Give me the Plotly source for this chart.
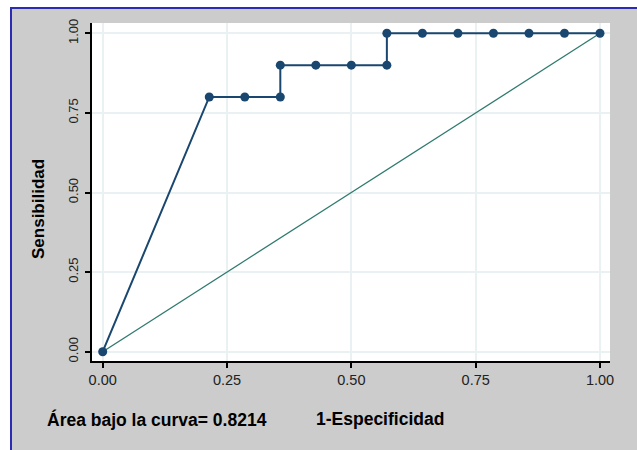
import plotly.graph_objects as go

# ---- data ----
fpr = [0.0, 3/14, 4/14, 5/14, 5/14, 6/14, 7/14, 8/14, 8/14, 9/14, 10/14, 11/14, 12/14, 13/14, 1.0]
sens = [0.0, 0.8, 0.8, 0.8, 0.9, 0.9, 0.9, 0.9, 1.0, 1.0, 1.0, 1.0, 1.0, 1.0, 1.0]
diag_x = [0.0, 1.0]
diag_y = [0.0, 1.0]
tick_vals = [0.0, 0.25, 0.5, 0.75, 1.0]
tick_text = ["0.00", "0.25", "0.50", "0.75", "1.00"]
auc_text = "Área bajo la curva= 0.8214"
x_title = "1-Especificidad"
y_title = "Sensibilidad"

W, H = 637, 450
L, R, T, B = 92, 610, 23, 361  # plot area in px


def xp(px):
    return (px - L) / (R - L)


def yp(py):
    return (B - py) / (B - T)


# axis ranges from pixel calibration
x0px, x1px = 102.7, 600.0
y0px, y1px = 351.7, 33.3
xr = [(L - x0px) / (x1px - x0px), (R - x0px) / (x1px - x0px)]
yr = [(y0px - B) / (y0px - y1px), (y0px - T) / (y0px - y1px)]

navy = "#1a476f"
teal = "#2f7a6e"
grid = "#eaf1f3"
font = "Liberation Sans, Arial, sans-serif"

fig = go.Figure()
fig.add_trace(go.Scatter(x=diag_x, y=diag_y, mode="lines",
                         line=dict(color=teal, width=1.3), hoverinfo="skip"))
fig.add_trace(go.Scatter(x=fpr, y=sens, mode="lines+markers",
                         line=dict(color=navy, width=2),
                         marker=dict(color=navy, size=9)))

shapes = [
    # white margin left & top
    dict(type="rect", xref="paper", yref="paper", x0=xp(0), x1=xp(10), y0=yp(450), y1=yp(0),
         fillcolor="white", line=dict(width=0), layer="above"),
    dict(type="rect", xref="paper", yref="paper", x0=xp(0), x1=xp(W), y0=yp(7), y1=yp(0),
         fillcolor="white", line=dict(width=0), layer="above"),
    # blue border lines
    dict(type="rect", xref="paper", yref="paper", x0=xp(10), x1=xp(12), y0=yp(450), y1=yp(7),
         fillcolor="#2b2bb5", line=dict(width=0), layer="above"),
    dict(type="rect", xref="paper", yref="paper", x0=xp(10), x1=xp(W), y0=yp(9), y1=yp(7),
         fillcolor="#2b2bb5", line=dict(width=0), layer="above"),
]

annotations = [
    dict(text=auc_text, xref="paper", yref="paper", x=xp(45), y=yp(419),
         xanchor="left", yanchor="middle", showarrow=False,
         font=dict(family=font, size=17.5, color="black", weight="bold")),
    dict(text=x_title, xref="paper", yref="paper", x=xp(314), y=yp(419),
         xanchor="left", yanchor="middle", showarrow=False,
         font=dict(family=font, size=17.5, color="black", weight="bold")),
    dict(text=y_title, xref="paper", yref="paper", x=xp(39), y=yp(209),
         xanchor="center", yanchor="middle", showarrow=False, textangle=-90,
         font=dict(family=font, size=17, color="black", weight="bold")),
]

fig.update_layout(
    width=W, height=H,
    margin=dict(l=L, r=W - R, t=T, b=H - B, pad=0),
    paper_bgcolor="#cccccc",
    plot_bgcolor="white",
    showlegend=False,
    shapes=shapes,
    annotations=annotations,
    font=dict(family=font, color="#222222"),
)
fig.update_xaxes(range=xr, tickvals=tick_vals, ticktext=tick_text,
                 showgrid=True, gridcolor=grid, gridwidth=1.5, zeroline=False,
                 showline=True, linecolor="black", linewidth=1.5,
                 ticks="outside", ticklen=5, tickwidth=1.5, tickcolor="black",
                 tickfont=dict(size=14.5, family=font, color="#222222"))
fig.update_yaxes(range=yr, tickvals=tick_vals, ticktext=tick_text, tickangle=-90,
                 showgrid=True, gridcolor=grid, gridwidth=1.5, zeroline=False,
                 showline=True, linecolor="black", linewidth=1.5,
                 ticks="outside", ticklen=5, tickwidth=1.5, tickcolor="black",
                 ticklabelstandoff=2,
                 tickfont=dict(size=13, family=font, color="#222222"))

fig.write_html("out.html")
